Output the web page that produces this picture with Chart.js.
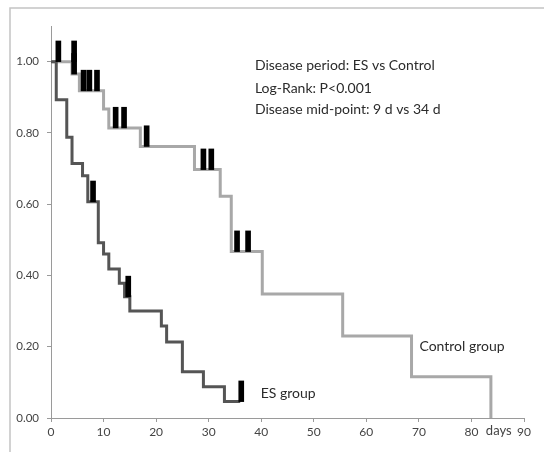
<!DOCTYPE html>
<html>
<head>
<meta charset="utf-8">
<script src="https://cdn.jsdelivr.net/npm/chart.js@4/dist/chart.umd.min.js"></script>
<style>
  html, body { margin: 0; padding: 0; background: #fff; }
  #wrap { width: 544px; height: 452px; position: relative; }
</style>
</head>
<body>
<div id="wrap"><canvas id="kmChart"></canvas></div>
<script>
// Kaplan-Meier curves
const esDays  = [0, 1, 3, 4, 6, 7, 9, 10, 11, 13, 14, 15, 21, 22, 25, 29, 33, 36];
const esSurv  = [1, 0.893, 0.788, 0.714, 0.68, 0.607, 0.492, 0.46, 0.418, 0.378, 0.34, 0.30, 0.258, 0.213, 0.13, 0.088, 0.046, 0.046];

const ctrlDays = [0, 4, 5.4, 10, 11, 17, 27.3, 32.2, 34.3, 40.2, 55.5, 68.6, 83.7];
const ctrlSurv = [1, 0.965, 0.918, 0.867, 0.814, 0.762, 0.697, 0.622, 0.467, 0.348, 0.23, 0.116, 0];

// censored cases (black ticks)
const esCensorDays = [8, 14.7, 36.2];
const esCensorSurv = [0.607, 0.34, 0.046];
const ctrlCensorDays = [1.4, 4.4, 4.4, 6.2, 7.3, 8.75, 12.3, 13.9, 18.2, 29, 30.5, 35.4, 37.5];
const ctrlCensorSurv = [1, 1, 0.965, 0.918, 0.918, 0.918, 0.814, 0.814, 0.762, 0.697, 0.697, 0.467, 0.467];

const xTicks = [0, 10, 20, 30, 40, 50, 60, 70, 80, 90];
const yTicks = [0, 0.2, 0.4, 0.6, 0.8, 1.0];

const FONT = 'Lato, "Open Sans", sans-serif';
const markH = 0.058;

function toPoints(xs, ys) {
    return xs.map((x, i) => ({ x: x, y: ys[i] }));
}

function toMarks(xs, ys) {
    return xs.map((x, i) => ({ x: x, y: [ys[i], ys[i] + markH] }));
}

// frame + free text labels
const textPlugin = {
    id: 'kmText',
    afterDraw(chart) {
        const c = chart.ctx;
        const xs = chart.scales.x;
        const ys = chart.scales.y;
        c.save();
        // outer frame (top + left)
        c.strokeStyle = '#c4c4c4';
        c.lineWidth = 1.5;
        c.beginPath();
        c.moveTo(10, 452);
        c.lineTo(10, 8);
        c.lineTo(544, 8);
        c.stroke();

        c.fillStyle = '#2b2b2b';
        c.textBaseline = 'middle';
        c.textAlign = 'left';
        c.font = '14px ' + FONT;
        const tx = xs.getPixelForValue(38.8);
        c.fillText('Disease period: ES vs Control', tx, ys.getPixelForValue(0.988));
        c.fillText('Log-Rank: P<0.001', tx, ys.getPixelForValue(0.925));
        c.fillText('Disease mid-point: 9 d vs 34 d', tx, ys.getPixelForValue(0.866));
        c.fillText('Control group', xs.getPixelForValue(70.1), ys.getPixelForValue(0.2));
        c.fillText('ES group', xs.getPixelForValue(39.9), ys.getPixelForValue(0.07));

        c.fillStyle = '#444';
        c.font = '13px ' + FONT;
        c.textAlign = 'center';
        c.fillText('days', xs.getPixelForValue(85.2), ys.bottom + 13);
        c.restore();
    }
};

new Chart(document.getElementById('kmChart'), {
    type: 'line',
    data: {
        datasets: [
            {
                type: 'bar',
                label: 'ES censored',
                data: toMarks(esCensorDays, esCensorSurv),
                backgroundColor: '#000',
                barThickness: 5,
                grouped: false,
                order: 0
            },
            {
                type: 'bar',
                label: 'Control censored',
                data: toMarks(ctrlCensorDays, ctrlCensorSurv),
                backgroundColor: '#000',
                barThickness: 5,
                grouped: false,
                order: 0
            },
            {
                label: 'ES group',
                data: toPoints(esDays, esSurv),
                borderColor: '#555555',
                borderWidth: 3,
                stepped: 'before',
                pointRadius: 0,
                fill: false,
                clip: false,
                order: 1
            },
            {
                label: 'Control group',
                data: toPoints(ctrlDays, ctrlSurv),
                borderColor: '#a8a8a8',
                borderWidth: 3,
                stepped: 'before',
                pointRadius: 0,
                fill: false,
                clip: false,
                order: 2
            }
        ]
    },
    options: {
        responsive: true,
        maintainAspectRatio: false,
        animation: false,
        layout: { padding: { top: 26, right: 20, left: 0, bottom: 0 } },
        plugins: {
            legend: { display: false },
            tooltip: { enabled: false }
        },
        scales: {
            x: {
                type: 'linear',
                min: 0,
                max: 90,
                offset: false,
                afterBuildTicks: (s) => { s.ticks = xTicks.map(v => ({ value: v })); },
                afterFit: (s) => { s.height = 34; },
                grid: { drawOnChartArea: false, drawTicks: true, tickLength: 4, color: '#9a9a9a', offset: false },
                border: { display: true, color: '#9a9a9a', width: 1 },
                ticks: {
                    color: '#444',
                    padding: 3,
                    maxRotation: 0,
                    font: { size: 12, family: FONT },
                    callback: (v) => v
                }
            },
            y: {
                type: 'linear',
                min: 0,
                max: 1.1,
                afterBuildTicks: (s) => { s.ticks = yTicks.map(v => ({ value: v })); },
                afterFit: (s) => { s.width = 51; },
                grid: { drawOnChartArea: false, drawTicks: true, tickLength: 4, color: '#9a9a9a' },
                border: { display: true, color: '#9a9a9a', width: 1 },
                ticks: {
                    color: '#444',
                    padding: 8,
                    font: { size: 11.5, family: FONT },
                    callback: (v) => Number(v).toFixed(2)
                }
            }
        }
    },
    plugins: [textPlugin]
});
</script>
</body>
</html>
